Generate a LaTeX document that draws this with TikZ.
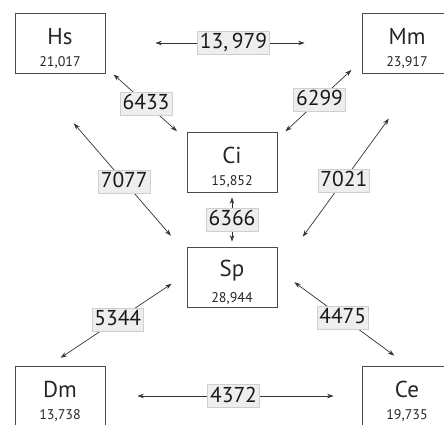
\documentclass[tikz,border=0pt]{standalone}
\usepackage{fontspec}
\setmainfont{PT Sans}
\usetikzlibrary{arrows.meta}

\definecolor{edgegray}{HTML}{333333}
\definecolor{labelfill}{HTML}{EEEEEE}
\definecolor{labelline}{HTML}{CFCFCF}

% species name above its gene count
\newcommand{\spcell}[2]{\vbox{\offinterlineskip\kern 11pt
  \hbox to 80pt{\hss\fontsize{23}{23}\selectfont #1\hss}\kern 12pt
  \hbox to 80pt{\hss\fontsize{14}{14}\selectfont #2\hss}}}

\begin{document}
\begin{tikzpicture}[x=1pt,y=-1pt,
    species/.style={draw=black!70, line width=0.8pt, minimum width=90pt,
      minimum height=60pt, inner sep=0pt, text=black!85},
    shared/.style={fill=labelfill, draw=labelline, line width=0.6pt,
      inner xsep=2.5pt, inner ysep=2.5pt, text height=15pt, text depth=3pt,
      font=\fontsize{21.5}{21.5}\selectfont, text=black!90},
    link/.style={<->, >={Stealth[length=6.5pt,width=4.5pt]},
      draw=edgegray, line width=0.7pt}]
    \path[use as bounding box, clip] (0,0) rectangle (444,425);

    % Species boxes
    \node[species] (Hs) at (60,43)   {\spcell{Hs}{21,017}};
    \node[species] (Mm) at (407,43)  {\spcell{Mm}{23,917}};
    \node[species] (Ci) at (232,162) {\spcell{Ci}{15,852}};
    \node[species] (Sp) at (232,277) {\spcell{Sp}{28,944}};
    \node[species] (Dm) at (60,396)  {\spcell{Dm}{13,738}};
    \node[species] (Ce) at (407,396) {\spcell{Ce}{19,735}};

    % Top and bottom rows
    \draw[link, shorten <=50pt, shorten >=57pt] (Hs.east) -- node[shared] (hsmm) {13,\,979} (Mm.west);
    \draw[link, shorten <=32pt, shorten >=28pt] (Dm.east) -- node[shared] (dmce) {4372} (Ce.west);

    % Into Ci
    \draw[link, shorten <=11pt, shorten >=13pt] (Hs.332) -- node[shared] (hsci) {6433} (Ci.154);
    \draw[link, shorten <=14pt, shorten >=11pt] (Mm.201) -- node[shared] (mmci) {6299} (Ci.27);

    % Into Sp
    \draw[link, shorten <=66pt, shorten >=24pt] (Hs.226) -- node[shared, pos=0.6] (hssp) {7077} (Sp.153);
    \draw[link, shorten <=56pt, shorten >=43pt] (Mm.296) -- node[shared, pos=0.54] (mmsp) {7021} (Sp.7);
    \draw[link, shorten <=5pt, shorten >=5pt] (Ci.south) -- node[shared] (cisp) {6366} (Sp.north);

    % Out of Sp
    \draw[link, shorten <=18pt, shorten >=14pt] (Sp.176) -- node[shared] (spdm) {5344} (Dm.110);
    \draw[link, shorten <=21pt, shorten >=17pt] (Sp.9) -- node[shared] (spce) {4475} (Ce.88);
\end{tikzpicture}
\end{document}
